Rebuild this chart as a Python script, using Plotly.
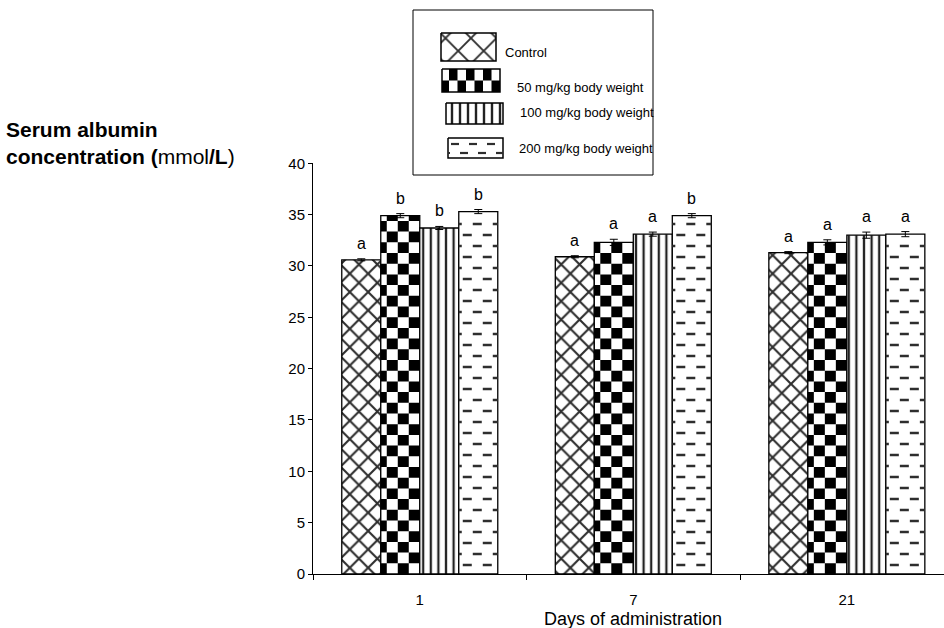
import plotly.graph_objects as go

# ---- data -------------------------------------------------------------
days = ["1", "7", "21"]
group_names = ["Control", "50 mg/kg body weight",
               "100 mg/kg body weight", "200 mg/kg body weight"]

albumin_control = [30.6, 30.9, 31.3]
albumin_50 = [34.9, 32.3, 32.3]
albumin_100 = [33.7, 33.1, 33.0]
albumin_200 = [35.3, 34.9, 33.1]

sem_control = [0.1, 0.1, 0.1]
sem_50 = [0.2, 0.3, 0.25]
sem_100 = [0.15, 0.2, 0.3]
sem_200 = [0.2, 0.2, 0.25]

letters_control = ["a", "a", "a"]
letters_50 = ["b", "a", "a"]
letters_100 = ["b", "a", "a"]
letters_200 = ["b", "b", "a"]

y_ticks = [0, 5, 10, 15, 20, 25, 30, 35, 40]

# ---- layout geometry ---------------------------------------------------
W, H = 944, 628
FONT = "Liberation Sans, Arial, sans-serif"
X_DOM = (313 / W, 1.0)
X_RNG = (-0.5, 2.455)
Y_DOM = (54 / H, 464.7 / H)
Y_RNG = (0, 40)
PX_X = W * (X_DOM[1] - X_DOM[0]) / (X_RNG[1] - X_RNG[0])  # pixels per category
PX_Y = H * (Y_DOM[1] - Y_DOM[0]) / (Y_RNG[1] - Y_RNG[0])  # pixels per unit
BAR_W = 39 / PX_X
x_pos = list(range(len(days)))

series = [albumin_control, albumin_50, albumin_100, albumin_200]
errors = [sem_control, sem_50, sem_100, sem_200]
letters = [letters_control, letters_50, letters_100, letters_200]
offsets = [(j - 2) * BAR_W for j in range(4)]

INK = "black"
HATCH = "#2e2e2e"


def checker_cells(x0, x1, y0, y1, cw, ch):
    """Black cells of a checkerboard clipped to a rectangle (one fill path)."""
    xs, ys = [], []
    r = 0
    while y0 + r * ch < y1 - 1e-9:
        ya, yb = y0 + r * ch, min(y0 + (r + 1) * ch, y1)
        k = 0
        while x1 - k * cw > x0 + 1e-9:
            xb, xa = x1 - k * cw, max(x1 - (k + 1) * cw, x0)
            if (r + k) % 2 == 1:
                xs += [xa, xb, xb, xa, xa, None]
                ys += [ya, ya, yb, yb, ya, None]
            k += 1
        r += 1
    return xs, ys


def dash_rows(x0, x1, y_first, y_limit, y_step, sx, dash=9.0, period=20.0, lead=4.0):
    """Staggered short horizontal dashes inside a rectangle."""
    xs, ys = [], []
    r = 0
    y = y_first
    while (y - y_limit) * (1 if y_step < 0 else -1) > 0:
        start = x0 + (lead + (period / 2) * (r % 2) - period) / sx
        while start < x1:
            a, b = max(start, x0), min(start + dash / sx, x1)
            if b > a:
                xs += [a, b, None]
                ys += [y, y, None]
            start += period / sx
        r += 1
        y += y_step
    return xs, ys


fig = go.Figure()

patterns = [
    dict(shape="x", size=13, solidity=0.3, fgcolor=HATCH, bgcolor="white", fillmode="replace"),
    None,
    dict(shape="|", size=7.6, solidity=0.3, fgcolor="#222", bgcolor="white", fillmode="replace"),
    None,
]

for j in range(4):
    marker = dict(color="white", line=dict(color=INK, width=1.3))
    if patterns[j] is not None:
        marker["pattern"] = patterns[j]
    fig.add_trace(go.Bar(
        x=x_pos, y=series[j], width=BAR_W, offset=offsets[j],
        marker=marker, name=group_names[j], showlegend=False,
        error_y=dict(type="data", array=errors[j], color=INK, thickness=1, width=4),
        xaxis="x", yaxis="y",
    ))

# checkerboard fill for the 50 mg/kg bars
cx, cy = [], []
for i, v in enumerate(albumin_50):
    bx0 = x_pos[i] + offsets[1]
    a, b = checker_cells(bx0, bx0 + BAR_W, 0, v, 11 / PX_X, 10.7 / PX_Y)
    cx += a
    cy += b
fig.add_trace(go.Scatter(x=cx, y=cy, mode="lines", fill="toself", fillcolor=INK,
                         line=dict(width=0, color=INK), hoverinfo="skip",
                         showlegend=False, xaxis="x", yaxis="y"))

# dashed fill for the 200 mg/kg bars
dx, dy = [], []
for i, v in enumerate(albumin_200):
    bx0 = x_pos[i] + offsets[3]
    a, b = dash_rows(bx0, bx0 + BAR_W, 9 / PX_Y, v - 6 / PX_Y, 11 / PX_Y, PX_X)
    dx += a
    dy += b
fig.add_trace(go.Scatter(x=dx, y=dy, mode="lines", line=dict(width=2.5, color="#2e2e2e"),
                         hoverinfo="skip", showlegend=False, xaxis="x", yaxis="y"))

# significance letters
annotations = []
for j in range(4):
    for i in range(len(days)):
        annotations.append(dict(
            x=x_pos[i] + offsets[j] + BAR_W / 2, y=series[j][i] + errors[j][i],
            xref="x", yref="y", text=letters[j][i], showarrow=False,
            yanchor="bottom", yshift=5, font=dict(family=FONT, size=16, color=INK)))

# ---- legend box (drawn in pixel space on an overlay axis) -------------
sw = [  # swatch rectangles: x0, y0, x1, y1 in pixels
    (441, 33, 496, 61),
    (442, 69, 500, 92),
    (446, 103, 503, 124),
    (448, 138, 503, 158),
]
label_pos = [(503, 52), (515, 87), (518, 112), (517, 148)]


def rect(x0, y0, x1, y1):
    return [x0, x1, x1, x0, x0], [y0, y0, y1, y1, y0]


legend_patterns = [
    dict(shape="x", size=18, solidity=0.2, fgcolor=HATCH, bgcolor="white", fillmode="replace"),
    None,
    dict(shape="|", size=8, solidity=0.3, fgcolor="#222", bgcolor="white", fillmode="replace"),
    None,
]
for j, (x0, y0, x1, y1) in enumerate(sw):
    rx, ry = rect(x0, y0, x1, y1)
    kw = dict(x=rx, y=ry, mode="lines", fill="toself", fillcolor="white",
              line=dict(color=INK, width=1.5), hoverinfo="skip", showlegend=False,
              xaxis="x2", yaxis="y2")
    if legend_patterns[j] is not None:
        kw["fillpattern"] = legend_patterns[j]
    fig.add_trace(go.Scatter(**kw))
    if j == 1:
        a, b = checker_cells(x0, x1, y0, y1, 8.5, 11.5)
        fig.add_trace(go.Scatter(x=a, y=b, mode="lines", fill="toself", fillcolor=INK,
                                 line=dict(width=0, color=INK), hoverinfo="skip",
                                 showlegend=False, xaxis="x2", yaxis="y2"))
    if j == 3:
        a, b = dash_rows(x0, x1, y0 + 6, y1 - 2, 9, 1.0, dash=8, period=18, lead=3)
        fig.add_trace(go.Scatter(x=a, y=b, mode="lines", line=dict(width=2.2, color="#2e2e2e"),
                                 hoverinfo="skip", showlegend=False, xaxis="x2", yaxis="y2"))
    annotations.append(dict(x=label_pos[j][0], y=label_pos[j][1], xref="x2", yref="y2",
                            text=group_names[j], showarrow=False, xanchor="left",
                            yanchor="middle", font=dict(family=FONT, size=13, color=INK)))

# axis titles
annotations.append(dict(x=1, y=(H - 619) / H, xref="x", yref="paper",
                        text="Days of administration", showarrow=False,
                        xanchor="center", yanchor="middle",
                        font=dict(family=FONT, size=18, color=INK)))
annotations.append(dict(x=4 / W, y=(H - 143) / H, xref="paper", yref="paper",
                        text="<b>Serum albumin</b><br><b>concentration (</b>mmol"
                             "<b>/L</b>)",
                        showarrow=False, xanchor="left", yanchor="middle", align="left",
                        font=dict(family=FONT, size=21, color=INK)))

fig.update_layout(
    width=W, height=H, margin=dict(l=0, r=0, t=0, b=0, pad=0, autoexpand=False),
    paper_bgcolor="white", plot_bgcolor="rgba(0,0,0,0)",
    barmode="overlay", showlegend=False,
    font=dict(family=FONT, color=INK),
    xaxis=dict(domain=list(X_DOM), range=list(X_RNG), anchor="y", automargin=False,
               tickvals=x_pos, ticktext=days, ticks="", showgrid=False, zeroline=False,
               showline=True, linecolor=INK, linewidth=1,
               tickfont=dict(family=FONT, size=15, color=INK), ticklabelstandoff=12,
               minor=dict(tickvals=[-0.5, 0.5, 1.5, 2.5], ticks="outside", ticklen=5,
                          tickcolor=INK, tickwidth=1, showgrid=False),
               fixedrange=True),
    yaxis=dict(domain=list(Y_DOM), range=list(Y_RNG), anchor="x", automargin=False,
               tickvals=y_ticks, ticks="outside", ticklen=4, tickcolor=INK,
               showgrid=False, zeroline=False, showline=True, linecolor=INK, linewidth=1,
               tickfont=dict(family=FONT, size=15, color=INK), fixedrange=True),
    xaxis2=dict(domain=[0, 1], range=[0, W], anchor="y2", visible=False,
                automargin=False, fixedrange=True),
    yaxis2=dict(domain=[0, 1], range=[H, 0], anchor="x2", visible=False,
                automargin=False, fixedrange=True),
    shapes=[dict(type="rect", xref="x2", yref="y2", x0=413, y0=10, x1=653, y1=175,
                 line=dict(color=INK, width=1), fillcolor="rgba(0,0,0,0)", layer="below")],
    annotations=annotations,
)

fig.write_html("out.html")
